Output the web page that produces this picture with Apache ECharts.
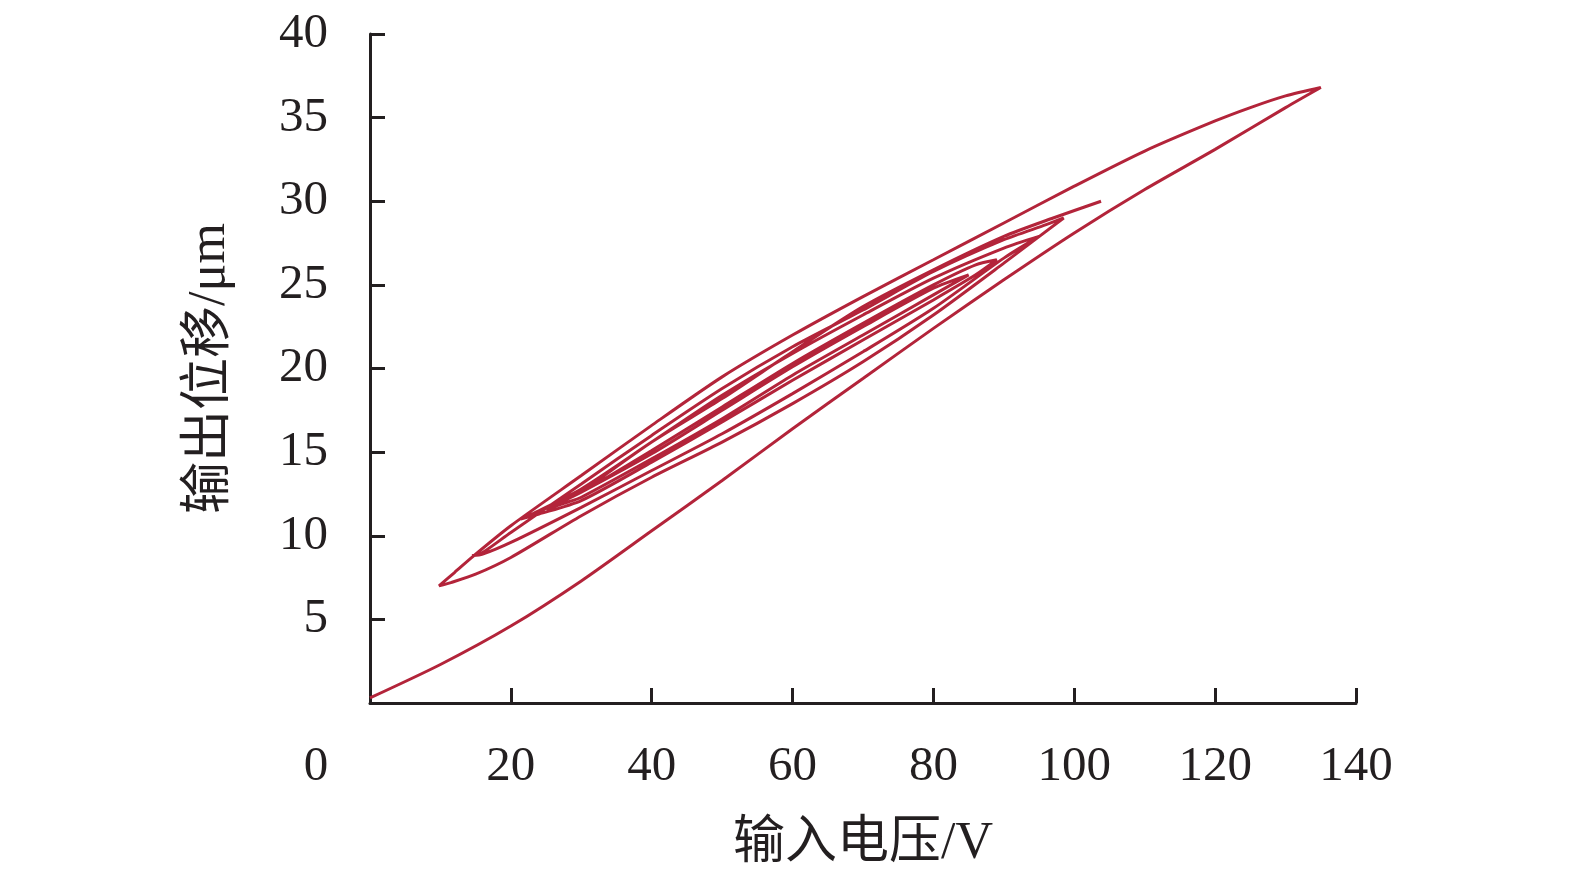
<!DOCTYPE html>
<html>
<head>
<meta charset="utf-8">
<title>迟滞曲线</title>
<script src="https://cdn.jsdelivr.net/npm/echarts@6/dist/echarts.min.js"></script>
<style>
  html, body { margin: 0; padding: 0; background: #fff; }
  #chart { width: 1575px; height: 886px; }
</style>
</head>
<body>
<div id="chart"></div>
<script>
// 输入电压 / 输出位移 曲线，按时间顺序分成若干段 [电压V, 位移μm]
const xTicks = [0, 20, 40, 60, 80, 100, 120, 140]
const yTicks = [0, 5, 10, 15, 20, 25, 30, 35, 40]

// 外环上升段（从原点开始）
const rise0 = [[0, 0.3], [10, 2.3], [20, 4.6], [30, 7.3], [40, 10.3], [50, 13.3], [60, 16.4], [70, 19.4], [80, 22.4], [90, 25.3], [100, 28.1], [110, 30.7], [120, 33.1], [130, 35.6], [135, 36.8]]
// 外环下降段
const fall0 = [[130, 36.3], [125, 35.6], [120, 34.8], [110, 33.0], [100, 30.9], [90, 28.7], [80, 26.5], [70, 24.3], [60, 22.0], [50, 19.5], [40, 16.6], [30, 13.6], [20, 10.6], [15, 8.9], [12, 7.8], [9.8, 7.0]]
// 内环
const rise1 = [[11.5, 7.2], [15, 7.7], [20, 8.7], [30, 11.2], [40, 13.5], [50, 15.6], [60, 17.9], [70, 20.4], [80, 23.2], [90, 26.3], [98.5, 29.0]]
const fall1 = [[96, 28.6], [90, 27.7], [80, 25.8], [70, 23.5], [60, 21.3], [50, 18.8], [40, 16.0], [30, 13.1], [20, 10.2], [16, 9.0], [14.5, 8.8]]
const rise2 = [[16, 8.9], [20, 9.6], [30, 11.7], [40, 13.9], [50, 16.1], [60, 18.5], [70, 21.0], [80, 23.6], [90, 26.6], [95, 27.9]]
const fall2 = [[90, 27.2], [80, 25.4], [70, 23.2], [60, 20.9], [50, 18.4], [40, 15.6], [30, 12.8], [23, 11.3], [21.4, 11.0]]
const rise3 = [[24, 11.3], [30, 12.1], [40, 14.4], [50, 16.8], [60, 19.3], [70, 21.7], [80, 24.1], [86, 25.6], [89, 26.5]]
const fall3 = [[86, 26.2], [80, 25.0], [70, 22.7], [60, 20.3], [50, 17.7], [40, 15.1], [30, 12.6], [25, 11.6]]
const rise4 = [[28, 12.0], [30, 12.3], [40, 14.6], [50, 17.0], [60, 19.6], [70, 22.0], [80, 24.4], [85, 25.6]]
const fall4 = [[80, 24.8], [70, 22.5], [60, 20.1], [50, 17.5], [40, 14.9], [30, 12.6]]
// 最后一段上升，止于约 103.8 V
const rise5 = [[40, 15.6], [50, 18.2], [60, 21.0], [70, 23.7], [80, 25.9], [90, 27.9], [97, 29.0], [103.8, 30.0]]

const curve = [].concat(rise0, fall0, rise1, fall1, rise2, fall2, rise3, fall3, rise4, fall4, rise5)

const serif = '"Liberation Serif", "Times New Roman", serif'
const cjk = '"Liberation Serif", "Noto Sans CJK SC", serif'
const ink = '#231f20'

const chartInstance = echarts.init(document.getElementById('chart'))
const option = {
  animation: false,
  grid: {
    left: 370,
    right: 219,
    top: 34,
    bottom: 183
  },
  xAxis: {
    type: 'value',
    min: xTicks[0],
    max: xTicks[xTicks.length - 1],
    interval: 20,
    name: '输入电压/V',
    nameLocation: 'middle',
    nameGap: 115,
    nameTextStyle: { fontFamily: cjk, fontSize: 52, color: ink },
    axisLine: { lineStyle: { color: ink, width: 3 } },
    axisTick: { inside: true, length: 15, lineStyle: { color: ink, width: 3 } },
    splitLine: { show: false },
    axisLabel: {
      margin: 40,
      fontFamily: serif,
      fontSize: 49,
      color: ink,
      // 原点的 0 放在左下角
      formatter: (v) => (v === 0 ? '{z|0}' : String(v)),
      rich: {
        z: { fontFamily: serif, fontSize: 49, color: ink, padding: [0, 108, 0, 0] }
      }
    }
  },
  yAxis: {
    type: 'value',
    min: yTicks[0],
    max: yTicks[yTicks.length - 1],
    interval: 5,
    name: '输出位移/μm',
    nameLocation: 'middle',
    nameGap: 134,
    nameRotate: 90,
    nameTextStyle: { fontFamily: cjk, fontSize: 52, color: ink },
    axisLine: { show: true, lineStyle: { color: ink, width: 3 } },
    axisTick: { show: true, inside: true, length: 15, lineStyle: { color: ink, width: 3 } },
    splitLine: { show: false },
    axisLabel: {
      margin: 42,
      fontFamily: serif,
      fontSize: 49,
      color: ink,
      formatter: (v) => (v === 0 ? '' : String(v))
    }
  },
  series: [
    {
      type: 'line',
      data: curve,
      showSymbol: false,
      smooth: 0.25,
      lineStyle: { color: '#b3243a', width: 3 }
    }
  ]
}
chartInstance.setOption(option)
</script>
</body>
</html>
